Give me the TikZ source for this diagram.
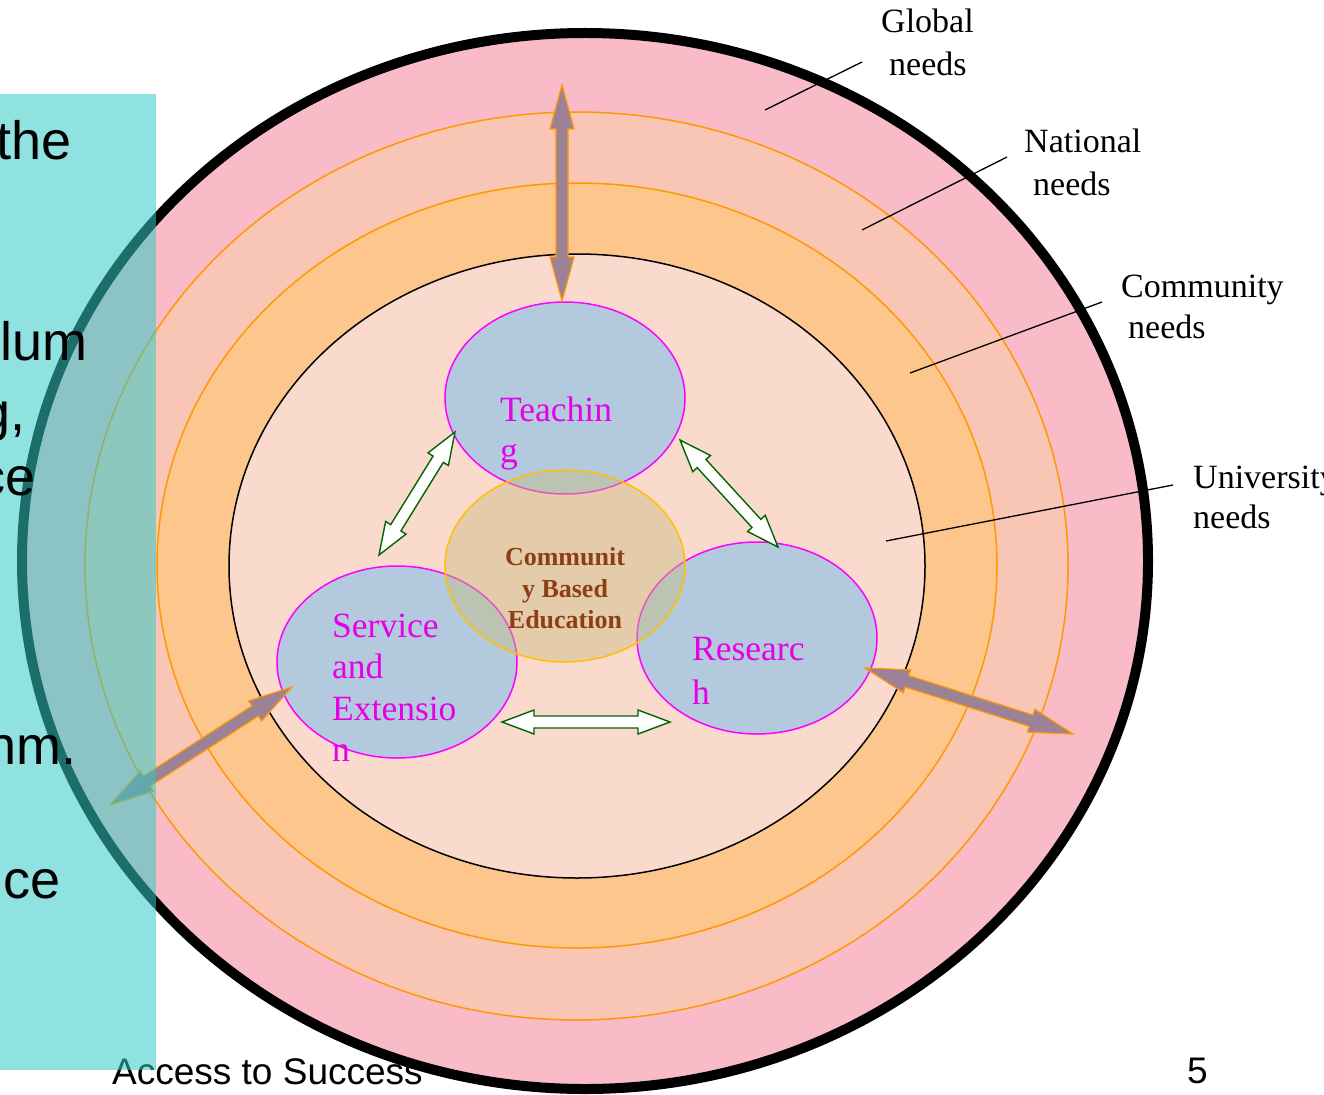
\documentclass[tikz,border=0pt]{standalone}
\usepackage{fontspec}
\setmainfont{Liberation Serif}
\newfontfamily\arialfam{Liberation Sans}
\usetikzlibrary{shapes.geometric,calc}

\definecolor{globalpink}{RGB}{249,187,199}
\definecolor{nationring}{RGB}{249,198,182}
\definecolor{commring}{RGB}{253,198,140}
\definecolor{univfill}{RGB}{251,218,206}
\definecolor{ringline}{RGB}{255,153,0}
\definecolor{bubblefill}{RGB}{179,202,222}
\definecolor{bubbletext}{RGB}{230,0,230}
\definecolor{bubbleline}{RGB}{255,0,255}
\definecolor{cbefill}{RGB}{200,187,127}
\definecolor{cbeline}{RGB}{255,192,0}
\definecolor{cbetext}{RGB}{140,62,20}
\definecolor{armfill}{RGB}{155,130,150}
\definecolor{linkgreen}{RGB}{0,100,0}
\definecolor{panelcyan}{RGB}{50,202,196}

\tikzset{
  % closed double-headed block arrow: head length / head half-width / shaft half-width
  blockarrow/.style n args={3}{to path={
    -- ($(\tikztostart)!#1!(\tikztotarget)!#2!90:(\tikztotarget)$)
    -- ($(\tikztostart)!#1!(\tikztotarget)!#3!90:(\tikztotarget)$)
    -- ($(\tikztotarget)!#1!(\tikztostart)!#3!-90:(\tikztostart)$)
    -- ($(\tikztotarget)!#1!(\tikztostart)!#2!-90:(\tikztostart)$)
    -- (\tikztotarget)
    -- ($(\tikztotarget)!#1!(\tikztostart)!#2!90:(\tikztostart)$)
    -- ($(\tikztotarget)!#1!(\tikztostart)!#3!90:(\tikztostart)$)
    -- ($(\tikztostart)!#1!(\tikztotarget)!#3!-90:(\tikztotarget)$)
    -- ($(\tikztostart)!#1!(\tikztotarget)!#2!-90:(\tikztotarget)$)
    -- cycle}},
  bigarrow/.style={blockarrow={44pt}{12pt}{6pt}, fill=armfill, draw=ringline,
    line width=1.2pt, line join=miter},
  linkarrow/.style={blockarrow={32pt}{12pt}{6pt}, fill=white, draw=linkgreen,
    line width=1.4pt, line join=miter},
  bubble/.style={ellipse, draw=bubbleline, fill=bubblefill, line width=1.5pt,
    minimum width=240pt, minimum height=192pt, inner sep=0pt, outer sep=0pt},
  bubblelabel/.style={anchor=base west, inner sep=0pt, text=bubbletext,
    font=\fontsize{35.5}{40}\selectfont},
  cbelabel/.style={anchor=base, inner sep=0pt, text=cbetext,
    font=\fontsize{26}{30}\selectfont\bfseries},
  needlabel/.style={anchor=base west, inner sep=0pt, font=\fontsize{34}{38}\selectfont},
  leader/.style={line width=1.3pt},
  paneltext/.style={anchor=base east, inner sep=0pt, font=\arialfam\fontsize{54}{60}\selectfont},
  foottext/.style={anchor=base west, inner sep=0pt, font=\arialfam\fontsize{37}{40}\selectfont},
}

\begin{document}
\begin{tikzpicture}[x=1pt,y=-1pt]
\useasboundingbox (0,0) rectangle (1324,1094);
\clip (0,0) rectangle (1324,1094);

% footer
\node[foottext] (foot) at (112,1084) {Access to Success};
\node[foottext] (pageno) at (1187,1083) {5};

% nested needs rings
\draw[line width=10pt, fill=globalpink] (585,561) ellipse [x radius=563pt, y radius=528pt];
\draw[line width=1.5pt, draw=ringline, fill=nationring] (576.5,566) ellipse [x radius=491.5pt, y radius=454pt];
\draw[line width=1.5pt, draw=ringline, fill=commring] (577,565.5) ellipse [x radius=420pt, y radius=382.5pt];
\draw[line width=1.5pt, fill=univfill] (577,566) ellipse [x radius=348pt, y radius=312pt];

% ring labels and leaders
\node[needlabel] (glob1) at (881,33) {Global};
\node[needlabel] (glob2) at (889,76) {needs};
\node[needlabel] (nat1) at (1024,153) {National};
\node[needlabel] (nat2) at (1033,196) {needs};
\node[needlabel] (com1) at (1121,297) {Community};
\node[needlabel] (com2) at (1128,338) {needs};
\node[needlabel] (uni1) at (1193,488) {University};
\node[needlabel] (uni2) at (1193,528) {needs};

\coordinate (gA) at (765,110);  \coordinate (gB) at (862,62);
\coordinate (nA) at (862,230);  \coordinate (nB) at (1007,157);
\coordinate (cA) at (910,373);  \coordinate (cB) at (1102,302);
\coordinate (uA) at (886,541);  \coordinate (uB) at (1173,485);
\draw[leader] (gA) -- (gB);
\draw[leader] (nA) -- (nB);
\draw[leader] (cA) -- (cB);
\draw[leader] (uA) -- (uB);

% the three functions
\node[bubble] (teach) at (565,398) {};
\node[bubble] (serv) at (397,662) {};
\node[bubble] (res) at (757,638) {};

% community based education core
\node[ellipse, draw=cbeline, line width=1.5pt, fill=cbefill, fill opacity=0.45,
  minimum width=240pt, minimum height=192pt, inner sep=0pt] (cbe) at (565,566) {};

\node[bubblelabel] (teachA) at (500,421) {Teachin};
\node[bubblelabel] (teachB) at (500,462) {g};
\node[bubblelabel] (servA) at (332,637) {Service};
\node[bubblelabel] (servB) at (332,678) {and};
\node[bubblelabel] (servC) at (332,720) {Extensio};
\node[bubblelabel] (servD) at (332,761) {n};
\node[bubblelabel] (resA) at (692,660) {Researc};
\node[bubblelabel] (resB) at (692,704) {h};

\node[cbelabel] (cbeA) at (565,565) {Communit};
\node[cbelabel] (cbeB) at (565,597) {y Based};
\node[cbelabel] (cbeC) at (565,628) {Education};

% links between the functions
\coordinate (ts1) at (455,432); \coordinate (ts2) at (379,555);
\coordinate (tr1) at (680,440); \coordinate (tr2) at (778,547);
\coordinate (sr1) at (502,722); \coordinate (sr2) at (670,722);
\draw[linkarrow] (ts1) to (ts2);
\draw[linkarrow] (tr1) to (tr2);
\draw[linkarrow] (sr1) to (sr2);

% outreach arrows
\coordinate (up1) at (562,85);  \coordinate (up2) at (562,301);
\coordinate (lf1) at (292,687); \coordinate (lf2) at (110,805);
\coordinate (rt1) at (865,668); \coordinate (rt2) at (1073,734);
\draw[bigarrow] (up1) to (up2);
\draw[bigarrow] (lf1) to (lf2);
\draw[bigarrow] (rt1) to (rt2);

% side panel
\fill[panelcyan, opacity=0.545] (0,94) rectangle (156,1070);
\node[paneltext] (p1) at (72,160) {the};
\node[paneltext] (p2) at (88,360) {lum};
\node[paneltext] (p3) at (26,430) {g,};
\node[paneltext] (p4) at (36,495) {ce};
\node[paneltext] (p5) at (77,764) {nm.};
\node[paneltext] (p6) at (61,898) {ce};
\end{tikzpicture}
\end{document}
